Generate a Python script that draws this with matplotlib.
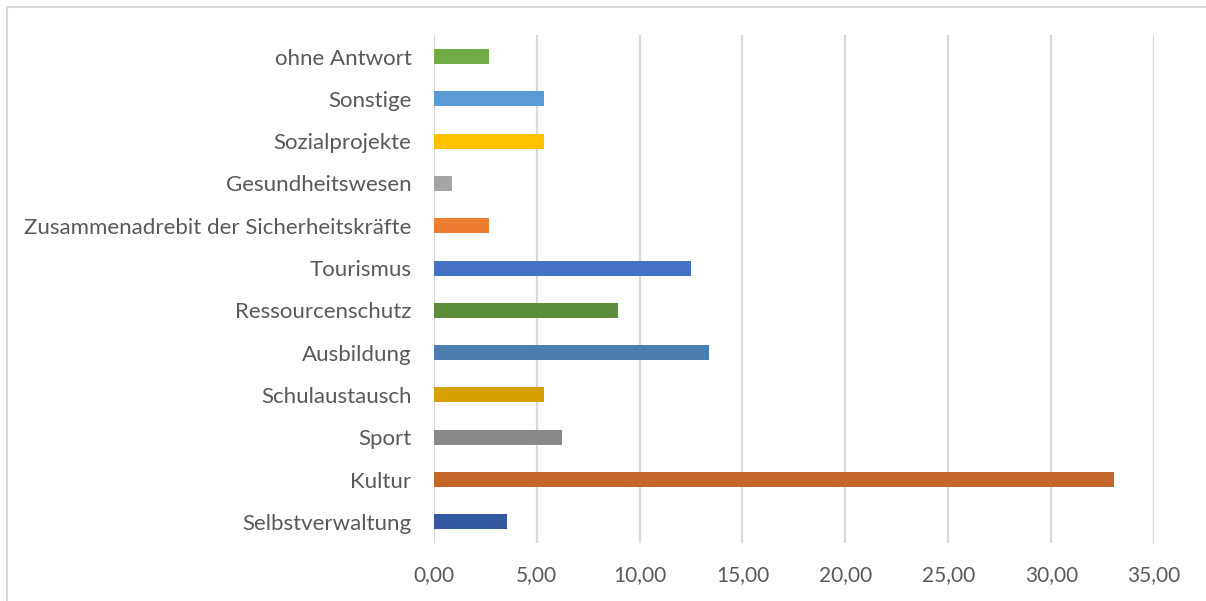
import matplotlib.pyplot as plt
from matplotlib.lines import Line2D

categories = ['Selbstverwaltung', 'Kultur', 'Sport', 'Schulaustausch', 'Ausbildung',
              'Ressourcenschutz', 'Tourismus', 'Zusammenadrebit der Sicherheitskräfte',
              'Gesundheitswesen', 'Sozialprojekte', 'Sonstige', 'ohne Antwort']
values = [3.57, 33.04, 6.25, 5.36, 13.39, 8.93, 12.50, 2.68, 0.89, 5.36, 5.36, 2.68]
colors = ['#335AA1', '#C4652A', '#888888', '#D5A000', '#4A7EB0', '#5B8E3A',
          '#4472C4', '#ED7D31', '#A5A5A5', '#FFC000', '#5B9BD5', '#70AD47']
xticks = [0, 5, 10, 15, 20, 25, 30, 35]

plt.rcParams['font.family'] = ['Lato', 'DejaVu Sans']
text_color = '#595959'

fig = plt.figure(figsize=(12.06, 6.01), dpi=100)
ax = fig.add_axes([0.3596, 0.0965, 0.5975, 0.8445])

ax.barh(range(len(categories)), values, height=0.355, color=colors, zorder=3)

ax.set_xlim(0, 35)
ax.set_ylim(-0.5, len(categories) - 0.5)
ax.set_xticks(xticks)
ax.set_xticklabels([f'{t:.2f}'.replace('.', ',') for t in xticks])
ax.set_yticks(range(len(categories)))
ax.set_yticklabels(categories)
ax.tick_params(axis='both', length=0, colors=text_color)
ax.tick_params(axis='x', pad=16, labelsize=15)
ax.tick_params(axis='y', pad=16, labelsize=16)
ax.grid(axis='x', color='#D9D9D9', linewidth=1.6, zorder=0)
for s in ax.spines.values():
    s.set_visible(False)

# chart frame (top and left edges visible)
fig.add_artist(Line2D([7 / 1206, 1], [1 - 7 / 601, 1 - 7 / 601], color='#D9D9D9', lw=1.5))
fig.add_artist(Line2D([7 / 1206, 7 / 1206], [0, 1 - 7 / 601], color='#D9D9D9', lw=1.5))

fig.savefig('out.png', dpi=100)
